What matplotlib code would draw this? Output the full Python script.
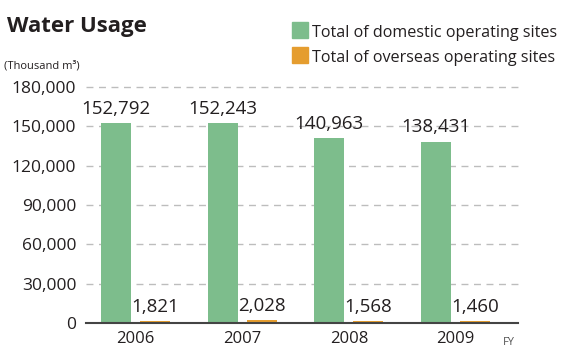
import matplotlib
matplotlib.use("Agg")
import matplotlib.pyplot as plt
from matplotlib.patches import Rectangle

plt.rcParams["font.family"] = ["Open Sans", "DejaVu Sans"]

years = ["2006", "2007", "2008", "2009"]
domestic = [152792, 152243, 140963, 138431]
overseas = [1821, 2028, 1568, 1460]
yticks = [0, 30000, 60000, 90000, 120000, 150000, 180000]

green = "#7dbd8c"
orange = "#e59d2f"
ink = "#231f20"

W, H = 571, 347
fig = plt.figure(figsize=(W / 100, H / 100), dpi=100)
ax = fig.add_axes([86 / W, 24 / H, (518 - 86) / W, (323 - 87) / H])

x = range(len(years))
bw = 0.281
off = 0.183
ax.bar([i - off for i in x], domestic, width=bw, color=green, zorder=2)
ax.bar([i + off for i in x], overseas, width=bw, color=orange, zorder=2)

for i in x:
    ax.annotate(f"{domestic[i]:,}", (i - off, domestic[i]), xytext=(0, 6.5),
                textcoords="offset points", ha="center", va="baseline",
                fontsize=13.5, color=ink, annotation_clip=False)
    ax.annotate(f"{overseas[i]:,}", (i + off, overseas[i]), xytext=(0, 6.5),
                textcoords="offset points", ha="center", va="baseline",
                fontsize=13.5, color=ink, annotation_clip=False)

ax.set_xlim(-0.464, 3.586)
ax.set_ylim(0, 180000)
ax.set_yticks(yticks)
ax.set_yticklabels([f"{v:,}" for v in yticks])
ax.set_xticks(list(x))
ax.set_xticklabels(years)
ax.tick_params(axis="y", length=0, pad=7, labelsize=12.5, labelcolor=ink)
ax.tick_params(axis="x", length=0, pad=5.5, labelsize=12, labelcolor=ink)

for v in yticks[1:]:
    ax.axhline(v, color="#bdbdbd", lw=1, ls=(0, (5, 4)), zorder=1, clip_on=False)

for s in ["top", "right", "left"]:
    ax.spines[s].set_visible(False)
ax.spines["bottom"].set_color("#444444")
ax.spines["bottom"].set_linewidth(1.5)
ax.spines["bottom"].set_zorder(3)

fig.text(503 / W, 1 - 345 / H, "FY", fontsize=8, color="#555555", va="baseline")

fig.text(7 / W, 1 - 32 / H, "Water Usage", fontsize=16, fontweight="bold",
         color=ink, va="baseline")
fig.text(4 / W, 1 - 68 / H, "(Thousand m³)", fontsize=8, color=ink, va="baseline")

# legend drawn by hand: swatch plus label
for row, (col, lab) in enumerate([(green, "Total of domestic operating sites"),
                                  (orange, "Total of overseas operating sites")]):
    top = 22 + row * 25
    fig.patches.append(Rectangle((292 / W, 1 - (top + 16) / H), 16 / W, 16 / H,
                                 transform=fig.transFigure, color=col))
    fig.text(312 / W, 1 - (top + 15) / H, lab, fontsize=11.6, color=ink, va="baseline")

fig.savefig("out.png", dpi=100)
